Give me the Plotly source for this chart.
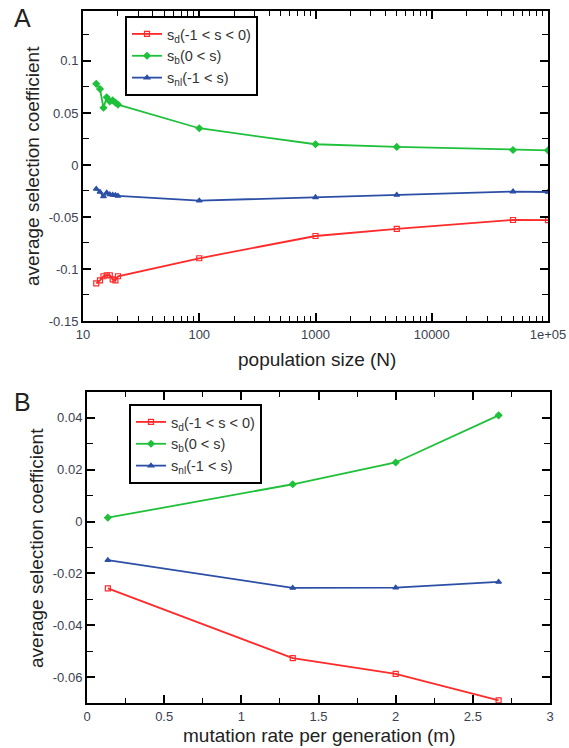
import plotly.graph_objects as go

# Panel A: selection coefficients versus population size
N = [13, 14, 15, 16, 17, 18, 19, 20, 100, 1000, 5000, 50000, 100000]
sd_N = [-0.1138, -0.111, -0.107, -0.106, -0.106, -0.110, -0.111, -0.107, -0.0897, -0.0683, -0.0615, -0.0529, -0.053]
sb_N = [0.078, 0.073, 0.055, 0.065, 0.061, 0.062, 0.060, 0.058, 0.0353, 0.0199, 0.0173, 0.0144, 0.0141]
snl_N = [-0.0231, -0.026, -0.0303, -0.0267, -0.0283, -0.0288, -0.029, -0.0298, -0.0343, -0.0311, -0.0288, -0.0256, -0.026]

# Panel B: selection coefficients versus mutation rate
m = [0.135, 1.333, 2.0, 2.667]
sd_m = [-0.0258, -0.0527, -0.0588, -0.069]
sb_m = [0.0015, 0.0144, 0.0228, 0.041]
snl_m = [-0.0149, -0.0256, -0.0255, -0.0233]

labels = ["s<sub>d</sub>(-1 < s < 0)", "s<sub>b</sub>(0 < s)", "s<sub>nl</sub>(-1 < s)"]
colors = ["#ff2a2a", "#1fc03a", "#2c4fa6"]
symbols = ["square-open", "diamond", "triangle-up"]

A_xticks = [10, 100, 1000, 10000, 100000]
A_xtext = ["10", "100", "1000", "10000", "1e+05"]
A_yticks = [-0.15, -0.1, -0.05, 0, 0.05, 0.1]
A_ytext = ["-0.15", "-0.1", "-0.05", "0", "0.05", "0.1"]
B_xticks = [0, 0.5, 1, 1.5, 2, 2.5, 3]
B_xtext = ["0", "0.5", "1", "1.5", "2", "2.5", "3"]
B_yticks = [-0.06, -0.04, -0.02, 0, 0.02, 0.04]
B_ytext = ["-0.06", "-0.04", "-0.02", "0", "0.02", "0.04"]

W, H = 569, 748
fig = go.Figure()

for i, ys in enumerate([sd_N, sb_N, snl_N]):
    fig.add_trace(go.Scatter(
        x=N, y=ys, mode="lines+markers", name=labels[i],
        line=dict(color=colors[i], width=1.8),
        marker=dict(symbol=symbols[i], size=5, color=colors[i], line=dict(color=colors[i], width=1.2)),
        xaxis="x", yaxis="y", legend="legend"))

for i, ys in enumerate([sd_m, sb_m, snl_m]):
    fig.add_trace(go.Scatter(
        x=m, y=ys, mode="lines+markers", name=labels[i],
        line=dict(color=colors[i], width=1.8),
        marker=dict(symbol=symbols[i], size=5, color=colors[i], line=dict(color=colors[i], width=1.2)),
        xaxis="x2", yaxis="y2", legend="legend2"))

tickfont = dict(family="Liberation Sans, Arial, sans-serif", size=13, color="#3c4150")
axis_common = dict(
    showline=True, linecolor="black", linewidth=2, mirror="allticks",
    ticks="inside", ticklen=8, tickwidth=1.5, tickcolor="black",
    showgrid=False, zeroline=False, tickfont=tickfont, automargin=False,
)

pxA = [83 / W, 548 / W]
pyA = [1 - 321 / H, 1 - 11 / H]
pxB = [87 / W, 550 / W]
pyB = [1 - 703 / H, 1 - 392 / H]

legend_common = dict(xanchor="left", yanchor="top", bgcolor="white",
                     bordercolor="black", borderwidth=2,
                     font=dict(size=14.5, color="#333"), tracegroupgap=0)

fig.update_layout(
    width=W, height=H,
    margin=dict(l=0, r=0, t=0, b=0),
    paper_bgcolor="white", plot_bgcolor="white",
    font=dict(family="Liberation Sans, Arial, sans-serif", color="#222"),
    xaxis=dict(axis_common, domain=pxA, anchor="y", type="log",
               range=[1, 5], tickvals=A_xticks, ticktext=A_xtext,
               minor=dict(ticks="inside", ticklen=5, tickwidth=1.2, tickcolor="black",
                          tickvals=[k * 10 ** e for e in range(1, 5) for k in range(2, 10)])),
    yaxis=dict(axis_common, domain=pyA, anchor="x",
               range=[-0.15, 0.148], tickvals=A_yticks, ticktext=A_ytext,
               minor=dict(ticks="inside", ticklen=6, tickwidth=1.2, tickcolor="black",
                          dtick=0.025, tick0=0)),
    xaxis2=dict(axis_common, domain=pxB, anchor="y2",
                range=[0, 3], tickvals=B_xticks, ticktext=B_xtext,
                minor=dict(ticks="inside", ticklen=5, tickwidth=1.2, tickcolor="black",
                           dtick=0.25, tick0=0)),
    yaxis2=dict(axis_common, domain=pyB, anchor="x2",
                range=[-0.07, 0.05], tickvals=B_yticks, ticktext=B_ytext,
                minor=dict(ticks="inside", ticklen=6, tickwidth=1.2, tickcolor="black",
                           dtick=0.01, tick0=0)),
    legend=dict(legend_common, x=125 / W, y=1 - 16 / H),
    legend2=dict(legend_common, x=129 / W, y=1 - 404 / H),
    showlegend=True,
)

title_font = dict(family="Liberation Sans, Arial, sans-serif", size=19, color="#222")
annots = [
    dict(text="A", x=22 / W, y=1 - 18 / H, font=dict(size=25, color="#222")),
    dict(text="B", x=22 / W, y=1 - 402 / H, font=dict(size=25, color="#222")),
    dict(text="population size (N)", x=317 / W, y=1 - 360 / H, font=title_font),
    dict(text="mutation rate per generation (m)", x=319 / W, y=1 - 735 / H, font=title_font),
    dict(text="average selection coefficient", x=32 / W, y=1 - 166 / H, font=title_font, textangle=-90),
    dict(text="average selection coefficient", x=36 / W, y=1 - 548 / H, font=title_font, textangle=-90),
]
for a in annots:
    fig.add_annotation(xref="paper", yref="paper", showarrow=False,
                       xanchor="center", yanchor="middle", **a)

fig.write_html("out.html")
